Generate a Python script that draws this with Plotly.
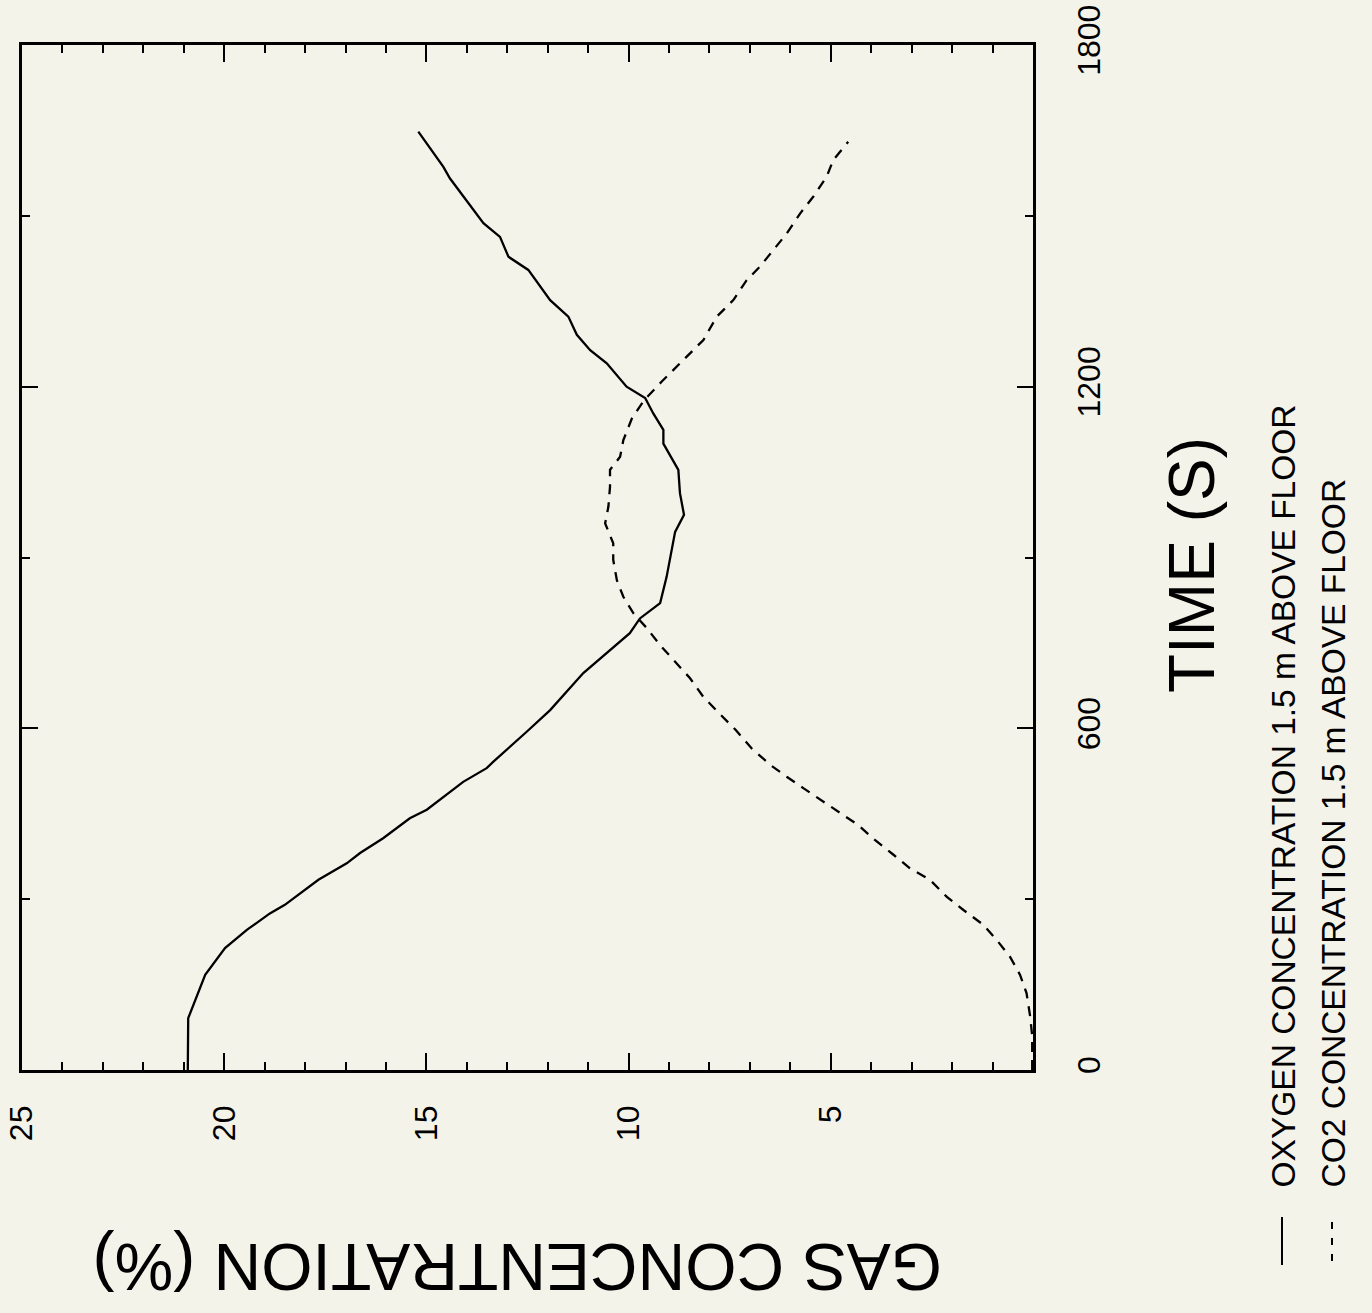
import plotly.graph_objects as go

# ---- data ----
o2_time = [0, 91, 167, 214, 246, 275, 290, 334, 363, 381, 407, 442, 457, 506, 530, 541,
           594, 615, 632, 697, 738, 767, 793, 820, 866, 931, 945, 975, 1013, 1054, 1100,
           1124, 1153, 1180, 1200, 1241, 1264, 1291, 1323, 1352, 1405, 1428, 1463, 1487,
           1566, 1586, 1648]
o2_conc = [20.9, 20.89, 20.47, 19.98, 19.44, 18.87, 18.50, 17.67, 16.97, 16.64, 16.07, 15.41,
           14.99, 14.09, 13.51, 13.35, 12.52, 12.19, 11.94, 11.12, 10.46, 9.97, 9.72, 9.22,
           9.06, 8.89, 8.85, 8.63, 8.73, 8.77, 9.14, 9.14, 9.39, 9.59, 10.05, 10.54, 10.95,
           11.28, 11.49, 11.94, 12.48, 12.97, 13.18, 13.59, 14.42, 14.58, 15.20]

co2_time = [0, 60, 94, 135, 167, 199, 225, 255, 281, 304, 334, 354, 378, 404, 430, 451, 474,
            495, 515, 536, 565, 597, 625, 655, 688, 717, 746, 776, 802, 831, 860, 896, 925,
            960, 989, 1024, 1054, 1077, 1106, 1144, 1176, 1209, 1241, 1282, 1323, 1352, 1387,
            1411, 1440, 1469, 1504, 1534, 1569, 1598, 1630]
co2_conc = [0.02, 0.02, 0.07, 0.16, 0.32, 0.57, 0.86, 1.23, 1.72, 2.13, 2.55, 3.04, 3.45, 3.91,
            4.32, 4.77, 5.23, 5.68, 6.09, 6.50, 6.96, 7.35, 7.74, 8.15, 8.48, 8.85, 9.22, 9.55,
            9.88, 10.13, 10.29, 10.38, 10.38, 10.58, 10.50, 10.46, 10.46, 10.21, 10.13, 9.92,
            9.62, 9.18, 8.73, 8.15, 7.82, 7.41, 7.08, 6.75, 6.42, 6.09, 5.76, 5.43, 5.10, 4.94,
            4.57]

conc_ticks = [25, 20, 15, 10, 5]
time_ticks = [0, 600, 1200, 1800]
legend_labels = ["OXYGEN CONCENTRATION 1.5 m ABOVE FLOOR",
                 "CO2 CONCENTRATION 1.5 m ABOVE FLOOR"]
x_title = "GAS CONCENTRATION (%)"
y_title = "TIME (S)"

BG = "#f4f3ea"
FONT = "Liberation Sans, Arial, sans-serif"

fig = go.Figure()
fig.add_trace(go.Scatter(x=o2_conc, y=o2_time, mode="lines",
                         line=dict(color="black", width=2.3), showlegend=False))
fig.add_trace(go.Scatter(x=co2_conc, y=co2_time, mode="lines",
                         line=dict(color="black", width=2.3, dash="10px,8px"), showlegend=False))

# target plot-area edges in screen pixels
L, R, T, B = 22, 1033, 45, 1070
W, H = 1372, 1313
PW, PH = R - L, B - T

def px(xp):
    return (xp - L) / PW

def py(yp):
    return (B - yp) / PH

fig.update_layout(
    width=W, height=H,
    margin=dict(l=L, r=W - R, t=T, b=H - B, pad=0, autoexpand=False),
    paper_bgcolor=BG, plot_bgcolor=BG,
    font=dict(family=FONT, color="black"),
    xaxis=dict(range=[25, 0], tickmode="array", tickvals=conc_ticks,
               ticktext=[str(v) for v in conc_ticks], automargin=False,
               ticklabeloverflow="allow",
               ticks="inside", ticklen=17, tickwidth=2, tickcolor="black",
               minor=dict(tickmode="linear", tick0=0, dtick=1, ticks="inside",
                          ticklen=8, tickwidth=2, tickcolor="black"),
               showline=True, linewidth=2.5, linecolor="black", mirror="ticks",
               showgrid=False, zeroline=False, tickangle=-90,
               tickfont=dict(size=32, family=FONT), ticklabelstandoff=20),
    yaxis=dict(range=[0, 1800], side="right", tickmode="array", tickvals=time_ticks,
               ticktext=[str(v) for v in time_ticks], automargin=False,
               ticklabeloverflow="allow",
               ticks="inside", ticklen=16, tickwidth=2, tickcolor="black",
               minor=dict(tickmode="linear", tick0=0, dtick=300, ticks="inside",
                          ticklen=8, tickwidth=2, tickcolor="black"),
               showline=True, linewidth=2.5, linecolor="black", mirror="ticks",
               showgrid=False, zeroline=False, tickangle=-90,
               tickfont=dict(size=32, family=FONT), ticklabelstandoff=26),
    showlegend=False,
)

ann = [
    dict(text=y_title, x=px(1192), y=py(565), textangle=-90, font=dict(size=64)),
    dict(text=x_title, x=px(518), y=py(1267), textangle=180, font=dict(size=66)),
]
for a in ann:
    fig.add_annotation(xref="paper", yref="paper", showarrow=False,
                       xanchor="center", yanchor="middle", **a)

for i, (lab, xc) in enumerate(zip(legend_labels, [1283, 1333])):
    fig.add_annotation(xref="paper", yref="paper", showarrow=False, text=lab,
                       x=px(xc), y=py(1190), xanchor="center", yanchor="bottom",
                       textangle=-90, font=dict(size=33.5))

fig.add_shape(type="line", xref="paper", yref="paper", x0=px(1282), x1=px(1282),
              y0=py(1217), y1=py(1265), line=dict(color="black", width=2))
fig.add_shape(type="line", xref="paper", yref="paper", x0=px(1332), x1=px(1332),
              y0=py(1222), y1=py(1267), line=dict(color="black", width=2, dash="7px,9px"))

fig.write_html("out.html", config={"displayModeBar": False},
               post_script="document.body.style.margin='0';document.body.style.background='%s';" % BG)
